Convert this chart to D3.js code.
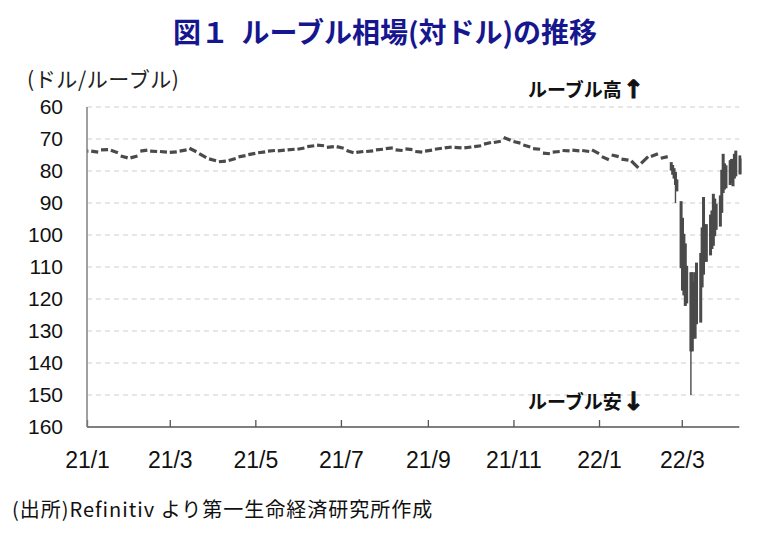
<!DOCTYPE html>
<html><head><meta charset="utf-8">
<script src="https://cdn.jsdelivr.net/npm/d3@7"></script>
<style>
html,body{margin:0;padding:0;background:#fff;}
svg{display:block;}
</style></head>
<body>
<script>
// ---- data ----
const title = "図１  ルーブル相場(対ドル)の推移";
const yUnit = "(ドル/ルーブル)";
const noteUp = ["ルーブル高", "↑"];
const noteDown = ["ルーブル安", "↓"];
const source = "(出所)Refinitiv より第一生命経済研究所作成";

const yTicks = [60,70,80,90,100,110,120,130,140,150,160];
const xTickDates = ["2021-01-01","2021-03-01","2021-05-01","2021-07-01","2021-09-01","2021-11-01","2022-01-01","2022-03-01"];
const xTickLabels = ["21/1","21/3","21/5","21/7","21/9","21/11","22/1","22/3"];

// weekly (Mon-Fri) first / last levels, calm period
const weekStarts = ["2020-12-28","2021-01-04","2021-01-11","2021-01-18","2021-01-25","2021-02-01","2021-02-08","2021-02-15","2021-02-22",
 "2021-03-01","2021-03-08","2021-03-15","2021-03-22","2021-03-29","2021-04-05","2021-04-12","2021-04-19","2021-04-26",
 "2021-05-03","2021-05-10","2021-05-17","2021-05-24","2021-05-31","2021-06-07","2021-06-14","2021-06-21","2021-06-28",
 "2021-07-05","2021-07-12","2021-07-19","2021-07-26","2021-08-02","2021-08-09","2021-08-16","2021-08-23","2021-08-30",
 "2021-09-06","2021-09-13","2021-09-20","2021-09-27","2021-10-04","2021-10-11","2021-10-18","2021-10-25","2021-11-01",
 "2021-11-08","2021-11-15","2021-11-22","2021-11-29","2021-12-06","2021-12-13","2021-12-20","2021-12-27","2022-01-03",
 "2022-01-10","2022-01-17","2022-01-24","2022-01-31","2022-02-07","2022-02-14"];
const weekFirst = [73.8,73.8,73.4,73.5,75.3,75.9,73.8,73.8,73.9,
 74.2,73.8,72.9,74.6,76.2,77.1,76.7,75.6,74.9,
 74.3,73.8,73.7,73.4,73.2,72.4,71.9,72.6,72.4,
 73.6,74.2,73.9,73.4,73.0,73.4,73.1,73.9,73.8,
 73.2,72.8,72.6,72.8,72.4,71.6,71.1,69.5,70.8,
 71.9,73.0,74.4,74.1,73.6,73.5,73.6,73.4,75.5,
 75.0,76.3,76.8,77.6,75.5,76.0];
const weekLast = [73.8,74.1,73.3,74.3,75.9,75.3,73.5,73.9,74.1,
 74.0,73.4,74.0,75.8,76.8,76.9,76.1,75.2,74.5,
 74.0,73.6,73.5,73.2,72.8,72.1,72.1,72.4,72.9,
 74.3,73.9,73.7,73.2,72.8,73.6,73.3,74.1,73.5,
 72.9,72.5,72.8,72.5,72.1,71.1,70.7,70.4,71.3,
 72.5,73.2,74.6,73.9,73.7,73.7,73.9,74.6,76.5,
 75.5,76.6,79.0,75.5,74.6,75.5];

// daily range, turmoil period
const dayDates = ["2022-02-21","2022-02-22","2022-02-23","2022-02-24","2022-02-25",
 "2022-02-28","2022-03-01","2022-03-02","2022-03-03","2022-03-04",
 "2022-03-07","2022-03-08","2022-03-09","2022-03-10","2022-03-11",
 "2022-03-14","2022-03-15","2022-03-16","2022-03-17","2022-03-18",
 "2022-03-21","2022-03-22","2022-03-23","2022-03-24","2022-03-25",
 "2022-03-28","2022-03-29","2022-03-30","2022-03-31","2022-04-01",
 "2022-04-04","2022-04-05","2022-04-06","2022-04-07","2022-04-08",
 "2022-04-11","2022-04-12"];
const dayLow  = [77.6,78.5,79.5,80.7,83.0, 89.8,95.0,100.0,103.0,110.0, 112.0,112.0,115.0,112.0,109.0,
 106.0,98.0,88.5,97.0,97.0, 94.0,92.7,87.5,89.0,90.6, 88.0,80.0,75.0,78.0,78.6, 77.0,76.6,77.6,75.0,74.0, 75.5,76.5];
const dayHigh = [79.5,80.8,82.0,84.0,86.0, 110.0,117.0,118.5,121.8,121.0, 136.0,136.0,132.0,132.0,127.5,
 127.0,116.0,112.0,108.0,108.0, 106.0,104.0,103.0,100.0,98.0, 97.0,92.7,86.5,85.4,85.0, 84.0,83.3,84.4,82.0,81.3, 80.7,80.6];
// thin intraday extremes
const spikeDates = ["2022-02-24","2022-03-07"];
const spikeFrom  = [84.0,136.0];
const spikeTo    = [90.0,150.0];

// ---- drawing ----
const W = 764, H = 536;
const parse = d3.timeParse("%Y-%m-%d");
const svg = d3.select("body").append("svg").attr("width", W).attr("height", H);

const x = d3.scaleTime().domain([new Date(2021,0,1), new Date(2022,3,11)]).range([87, 739.3]);
const y = d3.scaleLinear().domain([60,160]).range([107,427]);
const latin = "'Liberation Sans', Arial, sans-serif";
const jp = "'Noto Sans CJK JP', sans-serif";
const col = "#4a4a4a";

// title
svg.append("text").attr("x", 385).attr("y", 43).attr("text-anchor","middle")
  .attr("font-family", jp).attr("font-weight", 700).attr("font-size", 28).attr("fill", "#16168f")
  .attr("xml:space","preserve").style("white-space","pre").text(title);
// unit
svg.append("text").attr("x", 27).attr("y", 87).attr("font-family", jp).attr("font-size", 21)
  .attr("letter-spacing", 0.6).attr("fill","#222").text(yUnit);

// grid
svg.append("g").selectAll("line").data(yTicks.filter(v => v < 160)).join("line")
  .attr("x1", 87).attr("x2", 739.3).attr("y1", d => y(d)).attr("y2", d => y(d))
  .attr("stroke", "#cfcfcf").attr("stroke-width", 1).attr("stroke-dasharray", "5,4");

// y axis labels
const ya = svg.append("g").attr("transform", "translate(87,0)")
  .call(d3.axisLeft(y).tickValues(yTicks).tickSize(0).tickPadding(24).tickFormat(d3.format("d")));
ya.select(".domain").remove();
ya.selectAll("text").attr("font-family", latin).attr("font-size", 21).attr("fill", "#111");

// x axis
const xa = svg.append("g").attr("transform", "translate(0,427)")
  .call(d3.axisBottom(x).tickValues(xTickDates.map(parse)).tickSize(-7).tickPadding(25)
    .tickFormat((d,i) => xTickLabels[i]));
xa.select(".domain").attr("stroke", "#555").attr("stroke-width", 1.5).attr("d", "M87,0H739.3");
xa.selectAll(".tick line").attr("stroke", "#555").attr("stroke-width", 1.3);
xa.selectAll("text").attr("font-family", latin).attr("font-size", 23).attr("fill", "#111");

// y axis line
svg.append("line").attr("x1", 87).attr("x2", 87).attr("y1", 107).attr("y2", 427)
  .attr("stroke", "#808080").attr("stroke-width", 1.5);

// clip
svg.append("clipPath").attr("id","plot").append("rect").attr("x", 87.5).attr("y", 100).attr("width", 654).attr("height", 330);
const plot = svg.append("g").attr("clip-path", "url(#plot)");

// weekly segments
const line = d3.line();
const weeks = weekStarts.map((s,i) => {
  const d0 = parse(s);
  const d1 = d3.timeDay.offset(d0, 5);
  return [[x(d0), y(weekFirst[i])], [x(d1), y(weekLast[i])]];
});
plot.selectAll("path.wk").data(weeks).join("path").attr("class","wk")
  .attr("d", line).attr("fill","none").attr("stroke", col).attr("stroke-width", 3.2);

// daily bars
const days = dayDates.map((s,i) => ({d: parse(s), lo: dayLow[i], hi: dayHigh[i]}));
plot.selectAll("rect.dy").data(days).join("rect").attr("class","dy")
  .attr("x", d => x(d3.timeHour.offset(d.d, 12)) - 1.5).attr("width", 3)
  .attr("y", d => y(d.lo) - 1.2).attr("height", d => y(d.hi) - y(d.lo) + 2.4)
  .attr("fill", col);
const spikes = spikeDates.map((s,i) => ({d: parse(s), a: spikeFrom[i], b: spikeTo[i]}));
plot.selectAll("line.sp").data(spikes).join("line").attr("class","sp")
  .attr("x1", d => x(d3.timeHour.offset(d.d, 12))).attr("x2", d => x(d3.timeHour.offset(d.d, 12)))
  .attr("y1", d => y(d.a)).attr("y2", d => y(d.b)).attr("stroke", col).attr("stroke-width", 1.4);

// notes
function note(txt, yy) {
  const t = svg.append("text").attr("x", 528).attr("y", yy).attr("font-family", jp).attr("font-weight", 700)
    .attr("font-size", 19).attr("fill", "#111");
  t.append("tspan").text(txt[0]);
  t.append("tspan").attr("font-family", "'DejaVu Sans', sans-serif").attr("font-weight", 700)
    .attr("font-size", 25).attr("dx", 1).attr("dy", 1).attr("stroke", "#111").attr("stroke-width", 0.9)
    .text(txt[1]);
}
note(noteUp, 97);
note(noteDown, 409);

// source
svg.append("text").attr("x", 12).attr("y", 517).attr("font-family", jp).attr("font-size", 20)
  .attr("letter-spacing", 1.0).attr("fill", "#111").text(source);
</script>
</body></html>
